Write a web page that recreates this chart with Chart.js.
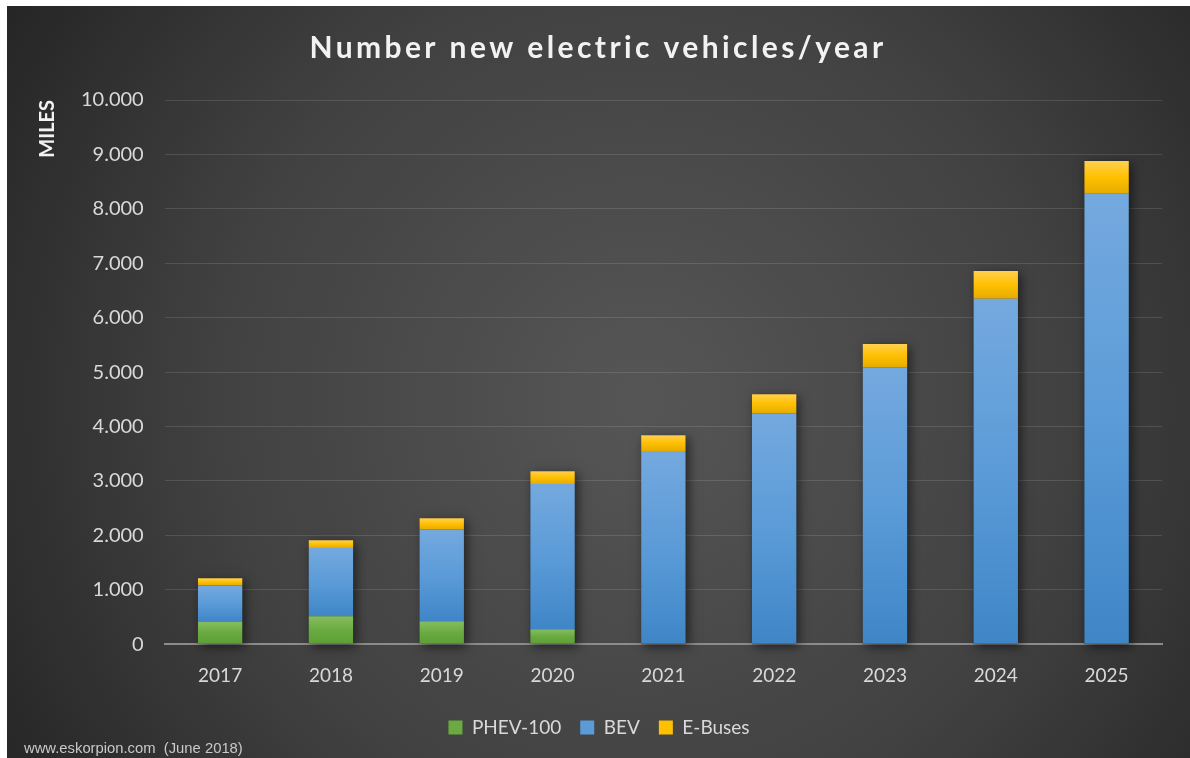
<!DOCTYPE html>
<html lang="en">
<head>
  <meta charset="UTF-8" />
  <title>Number new electric vehicles/year</title>
  <script src="https://cdn.jsdelivr.net/npm/chart.js"></script>
  <style>
    * { margin: 0; padding: 0; box-sizing: border-box; }
    body { background: #fff; width: 1190px; height: 758px; overflow: hidden; }
    #wrap { position: relative; width: 1190px; height: 758px; }
  </style>
</head>
<body>
  <div id="wrap"><canvas id="evChart"></canvas></div>

  <script>
    const years = ["2017", "2018", "2019", "2020", "2021", "2022", "2023", "2024", "2025"];
    const phev = [415, 515, 420, 275, 0, 0, 0, 0, 0];
    const bev = [665, 1255, 1690, 2670, 3550, 4245, 5090, 6350, 8275];
    const buses = [130, 140, 205, 235, 290, 350, 425, 510, 605];

    const titleText = "Number new electric vehicles/year";
    const footerText = "www.eskorpion.com  (June 2018)";

    // vertical gradient stops for each series (top -> bottom)
    const stops = {
      "PHEV-100": ["#86bd60", "#6aab41", "#5e9f35"],
      "BEV": ["#74a9de", "#5b9bd8", "#3f86c7"],
      "E-Buses": ["#ffd050", "#ffc000", "#e6ab00"]
    };

    const fmt = v => v.toLocaleString("de-DE");

    // dark panel with a soft radial light, title and source line
    const decor = {
      id: "decor",
      beforeDraw(chart) {
        const { ctx, width, height } = chart;
        ctx.save();
        ctx.fillStyle = "#fff";
        ctx.fillRect(0, 0, width, height);
        const g = ctx.createRadialGradient(640, 400, 20, 640, 400, 760);
        g.addColorStop(0, "#555555");
        g.addColorStop(0.55, "#414141");
        g.addColorStop(1, "#242424");
        ctx.fillStyle = g;
        ctx.fillRect(7, 6, width - 7, height - 6);
        ctx.restore();
      },
      afterDraw(chart) {
        const { ctx } = chart;
        ctx.save();
        ctx.fillStyle = "#f2f2f2";
        ctx.font = "bold 30px Lato";
        ctx.letterSpacing = "3.4px";
        ctx.textAlign = "center";
        ctx.textBaseline = "middle";
        ctx.fillText(titleText, 598, 48);
        ctx.letterSpacing = "0px";
        ctx.fillStyle = "#c9c9c9";
        ctx.font = "14.8px 'Liberation Sans'";
        ctx.textAlign = "left";
        ctx.textBaseline = "alphabetic";
        ctx.fillText(footerText, 24, 753);
        ctx.restore();
      }
    };

    // per-segment gradients and a drop shadow behind every stack
    const barLook = {
      id: "barLook",
      beforeDatasetsDraw(chart) {
        const { ctx } = chart;
        const metas = chart.data.datasets.map((d, i) => chart.getDatasetMeta(i));
        metas.forEach((meta, i) => {
          const s = stops[chart.data.datasets[i].label];
          meta.data.forEach(bar => {
            const top = Math.min(bar.y, bar.base);
            const bottom = Math.max(bar.y, bar.base);
            const g = ctx.createLinearGradient(0, top, 0, bottom + 0.01);
            g.addColorStop(0, s[0]);
            g.addColorStop(0.5, s[1]);
            g.addColorStop(1, s[2]);
            bar.options.backgroundColor = g;
          });
        });
        ctx.save();
        years.forEach((y, j) => {
          const bars = metas.map(m => m.data[j]);
          const top = Math.min(...bars.map(b => Math.min(b.y, b.base)));
          const base = Math.max(...bars.map(b => Math.max(b.y, b.base)));
          const w = bars[0].width;
          ctx.shadowColor = "rgba(0,0,0,0.55)";
          ctx.shadowBlur = 10;
          ctx.shadowOffsetX = 3;
          ctx.shadowOffsetY = 3;
          ctx.fillStyle = "#303030";
          ctx.fillRect(bars[0].x - w / 2, top, w, base - top);
        });
        ctx.restore();
      }
    };

    const series = [
      { label: "PHEV-100", data: phev },
      { label: "BEV", data: bev },
      { label: "E-Buses", data: buses }
    ].map(d => ({
      ...d,
      backgroundColor: ctx => stops[d.label][1],
      borderWidth: 0,
      categoryPercentage: 1,
      barPercentage: 0.4
    }));

    new Chart(document.getElementById("evChart"), {
      type: "bar",
      data: { labels: years, datasets: series },
      plugins: [decor, barLook],
      options: {
        responsive: true,
        maintainAspectRatio: false,
        animation: false,
        layout: { padding: { top: 100, right: 28, left: 36, bottom: 11 } },
        plugins: {
          title: { display: false },
          tooltip: { enabled: false },
          legend: {
            position: "bottom",
            labels: {
              generateLabels: chart => chart.data.datasets.map((d, i) => ({
                text: d.label,
                fillStyle: stops[d.label][1],
                strokeStyle: stops[d.label][1],
                lineWidth: 0,
                fontColor: "#d9d9d9",
                datasetIndex: i
              })),
              boxWidth: 14,
              boxHeight: 14,
              padding: 19,
              color: "#d9d9d9",
              font: { family: "Lato", size: 19 }
            }
          }
        },
        scales: {
          x: {
            stacked: true,
            grid: { display: false },
            border: { display: true, color: "#8c8c8c", width: 2 },
            ticks: { color: "#d9d9d9", padding: 12, font: { family: "Lato", size: 19 } }
          },
          y: {
            stacked: true,
            min: 0,
            max: 10000,
            grid: { color: "rgba(255,255,255,0.12)", drawTicks: false },
            border: { display: false },
            ticks: {
              stepSize: 1000,
              padding: 21,
              color: "#d9d9d9",
              font: { family: "Lato", size: 20 },
              callback: v => fmt(v)
            },
            title: {
              display: true,
              text: "MILES",
              align: "end",
              color: "#f2f2f2",
              font: { family: "Lato", size: 20, weight: "bold" },
              padding: { top: 0, bottom: 0 }
            }
          }
        }
      }
    });
  </script>
</body>
</html>
